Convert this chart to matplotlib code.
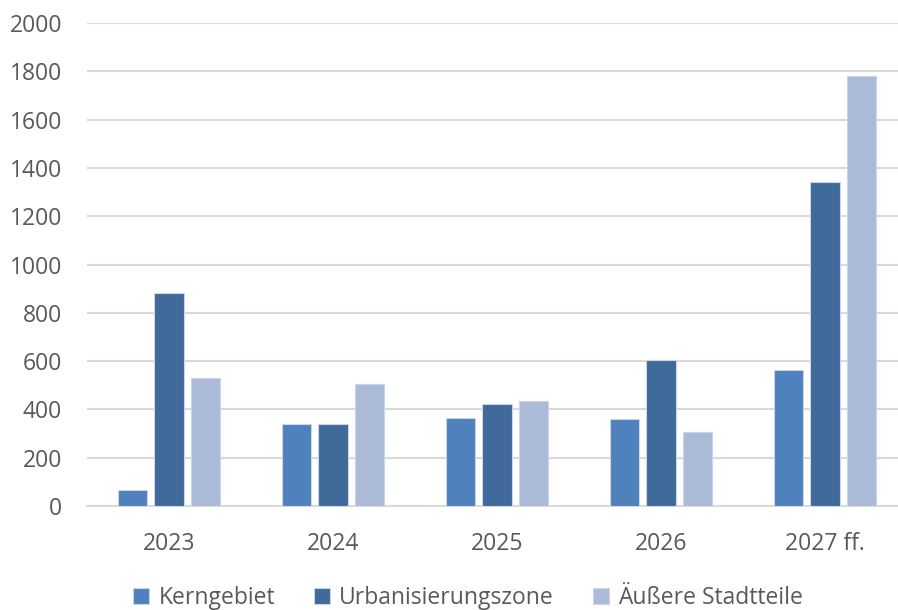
import matplotlib
matplotlib.use("Agg")
import matplotlib.pyplot as plt
import numpy as np

plt.rcParams['font.family'] = ['Open Sans', 'DejaVu Sans']

categories = ["2023", "2024", "2025", "2026", "2027 ff."]
series_names = ["Kerngebiet", "Urbanisierungszone", "Äußere Stadtteile"]
kerngebiet = [65, 338, 366, 362, 563]
urbanisierungszone = [882, 338, 422, 606, 1340]
aeussere = [529, 504, 436, 306, 1782]
yticks = [0, 200, 400, 600, 800, 1000, 1200, 1400, 1600, 1800, 2000]

colors = ["#4F81BD", "#3F6A9A", "#ABBAD7"]
text_color = "#595959"

fig = plt.figure(figsize=(8.98, 6.10), dpi=100)
ax = fig.add_axes([87/898, (610-506)/610, 820/898, (506-23)/610])

x = np.arange(len(categories))
w = 0.177
off = 0.2226
for i, (vals, name) in enumerate(zip([kerngebiet, urbanisierungszone, aeussere], series_names)):
    ax.bar(x + (i-1)*off, vals, width=w, color=colors[i], label=name,
           edgecolor="#C9D5EA", linewidth=0.8, zorder=3)

ax.set_xlim(-0.5, len(categories)-0.5)
ax.set_ylim(0, 2000)
ax.set_yticks(yticks)
ax.set_yticklabels([str(v) for v in yticks])
ax.set_xticks(x)
ax.set_xticklabels(categories)
ax.yaxis.grid(True, color="#D9D9D9", linewidth=1.5, zorder=0)
ax.set_axisbelow(True)
for s in ["top", "right", "left"]:
    ax.spines[s].set_visible(False)
ax.spines["bottom"].set_color("#D9D9D9")
ax.spines["bottom"].set_linewidth(1.5)
ax.tick_params(axis="both", length=0, colors=text_color, labelsize=16.5)
ax.tick_params(axis="y", pad=18)
ax.tick_params(axis="x", pad=19)

leg = fig.legend(loc="center", bbox_to_anchor=(468/898, (610-598)/610), ncol=3,
                 frameon=False, fontsize=16.5, handlelength=0.7, handleheight=0.7,
                 handletextpad=0.4, columnspacing=1.7)
for t in leg.get_texts():
    t.set_color(text_color)

fig.savefig("out.png", dpi=100)
